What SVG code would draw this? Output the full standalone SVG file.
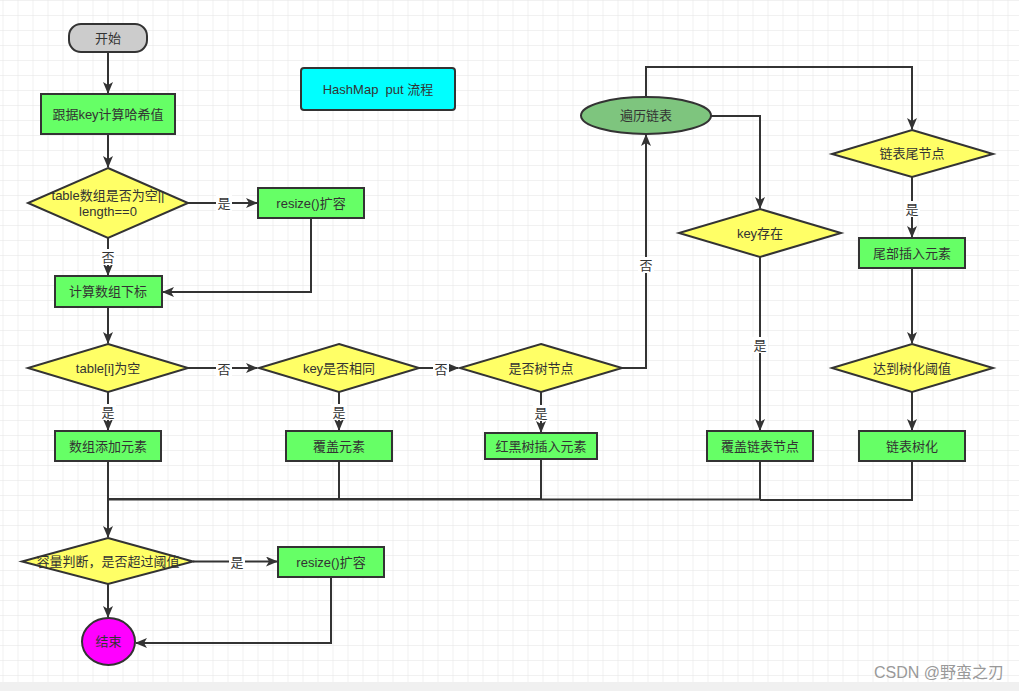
<svg xmlns="http://www.w3.org/2000/svg" width="1019" height="691" viewBox="0 0 1019 691">
<defs>
<pattern id="grid" x="2.5" y="0" width="15" height="15" patternUnits="userSpaceOnUse">
<path d="M0,0 V15 M0,0 H15" fill="none" stroke="#e4e4e4" stroke-width="1"/>
</pattern>
<marker id="arr" viewBox="0 0 12 10" refX="11" refY="5" markerWidth="12" markerHeight="10" markerUnits="userSpaceOnUse" orient="auto">
<path d="M0,0 L12,5 L0,10 L3,5 z" fill="#333"/>
</marker>
<style>
.n{stroke:#333;stroke-width:2}
.g{fill:#66ff66}
.y{fill:#ffff66}
.t{font-family:"Liberation Sans","Noto Sans CJK SC",sans-serif;font-size:13px;fill:#333;text-anchor:middle}
.c{fill:none;stroke:#333;stroke-width:2}
.lb{fill:#fff}
.ll{font-family:"Noto Sans CJK SC",sans-serif;font-size:13px;fill:#333;text-anchor:middle}
</style>
</defs>
<rect width="1019" height="691" fill="#fff"/>
<rect width="1019" height="682" fill="url(#grid)"/>
<rect y="682" width="1019" height="9" fill="#f0f0f0"/>

<g id="connectors">
<path class="c" d="M108,52 V93" marker-end="url(#arr)"/>
<path class="c" d="M108,134 V167" marker-end="url(#arr)"/>
<path class="c" d="M188,203 H257" marker-end="url(#arr)"/>
<path class="c" d="M108,238 V275" marker-end="url(#arr)"/>
<path class="c" d="M311,218 V292 H163" marker-end="url(#arr)"/>
<path class="c" d="M108,307 V343" marker-end="url(#arr)"/>
<path class="c" d="M188,368 H257" marker-end="url(#arr)"/>
<path class="c" d="M419,368 H458" marker-end="url(#arr)"/>
<path class="c" d="M108,392 V430" marker-end="url(#arr)"/>
<path class="c" d="M339,392 V430" marker-end="url(#arr)"/>
<path class="c" d="M541,392 V432" marker-end="url(#arr)"/>
<path class="c" d="M622,368 H646 V135" marker-end="url(#arr)"/>
<path class="c" d="M646,97 V67 H912 V129" marker-end="url(#arr)"/>
<path class="c" d="M711,116 H760 V208" marker-end="url(#arr)"/>
<path class="c" d="M760,257 V430" marker-end="url(#arr)"/>
<path class="c" d="M912,177 V237" marker-end="url(#arr)"/>
<path class="c" d="M912,268 V343" marker-end="url(#arr)"/>
<path class="c" d="M912,392 V430" marker-end="url(#arr)"/>
<path class="c" d="M108,461 V537" marker-end="url(#arr)"/>
<path class="c" d="M339,461 V499 H108"/>
<path class="c" d="M541,459 V499 H108"/>
<path class="c" d="M760,461 V499.5 H108"/>
<path class="c" d="M912,461 V500 H760"/>
<path class="c" d="M193,561.5 H277" marker-end="url(#arr)"/>
<path class="c" d="M108,584 V617" marker-end="url(#arr)"/>
<path class="c" d="M331,577 V643 H136" marker-end="url(#arr)"/>

<rect class="lb" x="216" y="195" width="16" height="16"/><text class="ll" x="224" y="208">是</text>
<rect class="lb" x="100" y="249" width="16" height="16"/><text class="ll" x="108" y="262">否</text>
<rect class="lb" x="216" y="361" width="16" height="16"/><text class="ll" x="224" y="374">否</text>
<rect class="lb" x="433" y="361" width="16" height="16"/><text class="ll" x="441" y="374">否</text>
<rect class="lb" x="100" y="404" width="16" height="16"/><text class="ll" x="108" y="417">是</text>
<rect class="lb" x="331" y="404" width="16" height="16"/><text class="ll" x="339" y="417">是</text>
<rect class="lb" x="533" y="405" width="16" height="16"/><text class="ll" x="541" y="418">是</text>
<rect class="lb" x="638" y="257" width="16" height="16"/><text class="ll" x="646" y="270">否</text>
<rect class="lb" x="752" y="337" width="16" height="16"/><text class="ll" x="760" y="350">是</text>
<rect class="lb" x="904" y="201" width="16" height="16"/><text class="ll" x="912" y="214">是</text>
<rect class="lb" x="229" y="554" width="16" height="16"/><text class="ll" x="237" y="567">是</text>
</g>

<g id="start"><rect class="n" x="69" y="24" width="78" height="28" rx="12" fill="#cccccc"/><text class="t" x="108" y="42.5">开始</text></g>
<g id="hash"><rect class="n g" x="41" y="94" width="134" height="40"/><text class="t" x="108" y="118.5">跟据key计算哈希值</text></g>
<g id="title"><rect class="n" x="301" y="68" width="154" height="42" rx="3" fill="#00ffff"/><text class="t" x="378" y="93.5">HashMap&#160; put 流程</text></g>
<g id="tableEmpty"><polygon class="n y" points="108,168 188,203 108,238 28,203"/><text class="t" x="108" y="200">table数组是否为空||</text><text class="t" x="108" y="216">length==0</text></g>
<g id="resize1"><rect class="n g" x="258" y="188" width="106" height="30"/><text class="t" x="311" y="207.5">resize()扩容</text></g>
<g id="index"><rect class="n g" x="55" y="276" width="107" height="31"/><text class="t" x="108" y="296">计算数组下标</text></g>
<g id="slotEmpty"><polygon class="n y" points="108,344 188,368 108,392 28,368"/><text class="t" x="108" y="372.5">table[i]为空</text></g>
<g id="keySame"><polygon class="n y" points="339,344 419,368 339,392 259,368"/><text class="t" x="339" y="372.5">key是否相同</text></g>
<g id="isTree"><polygon class="n y" points="541,344 622,368 541,392 460,368"/><text class="t" x="541" y="372.5">是否树节点</text></g>
<g id="addElem"><rect class="n g" x="55" y="431" width="106" height="30"/><text class="t" x="108" y="450.5">数组添加元素</text></g>
<g id="override"><rect class="n g" x="286" y="431" width="106" height="30"/><text class="t" x="339" y="450.5">覆盖元素</text></g>
<g id="rbInsert"><rect class="n g" x="485" y="433" width="112" height="26"/><text class="t" x="541" y="450.5">红黑树插入元素</text></g>
<g id="traverse"><ellipse class="n" cx="646" cy="115.5" rx="65" ry="18.5" fill="#7ec57e"/><text class="t" x="646" y="120">遍历链表</text></g>
<g id="keyExists"><polygon class="n y" points="760,209 841,233 760,257 679,233"/><text class="t" x="760" y="237.5">key存在</text></g>
<g id="tailNode"><polygon class="n y" points="912,130 993,154 912,177 832,154"/><text class="t" x="912" y="158">链表尾节点</text></g>
<g id="tailInsert"><rect class="n g" x="859" y="238" width="106" height="30"/><text class="t" x="912" y="257.5">尾部插入元素</text></g>
<g id="threshold"><polygon class="n y" points="912,344 993,368 912,392 832,368"/><text class="t" x="912" y="372.5">达到树化阈值</text></g>
<g id="overrideNode"><rect class="n g" x="707" y="431" width="106" height="30"/><text class="t" x="760" y="450.5">覆盖链表节点</text></g>
<g id="treeify"><rect class="n g" x="859" y="431" width="106" height="30"/><text class="t" x="912" y="450.5">链表树化</text></g>
<g id="capacity"><polygon class="n y" points="108,538 193,561.5 108,584 22,561.5"/><text class="t" x="108" y="566">容量判断，是否超过阈值</text></g>
<g id="resize2"><rect class="n g" x="278" y="547" width="106" height="30"/><text class="t" x="331" y="566.5">resize()扩容</text></g>
<g id="end"><ellipse class="n" cx="108.5" cy="641.5" rx="26.5" ry="23.5" fill="#ff00ff"/><text class="t" x="108.5" y="646">结束</text></g>
<text x="1004" y="678" font-family="Liberation Sans,Noto Sans CJK SC,sans-serif" font-size="16" fill="#999" text-anchor="end">CSDN @野蛮之刃</text>
</svg>
